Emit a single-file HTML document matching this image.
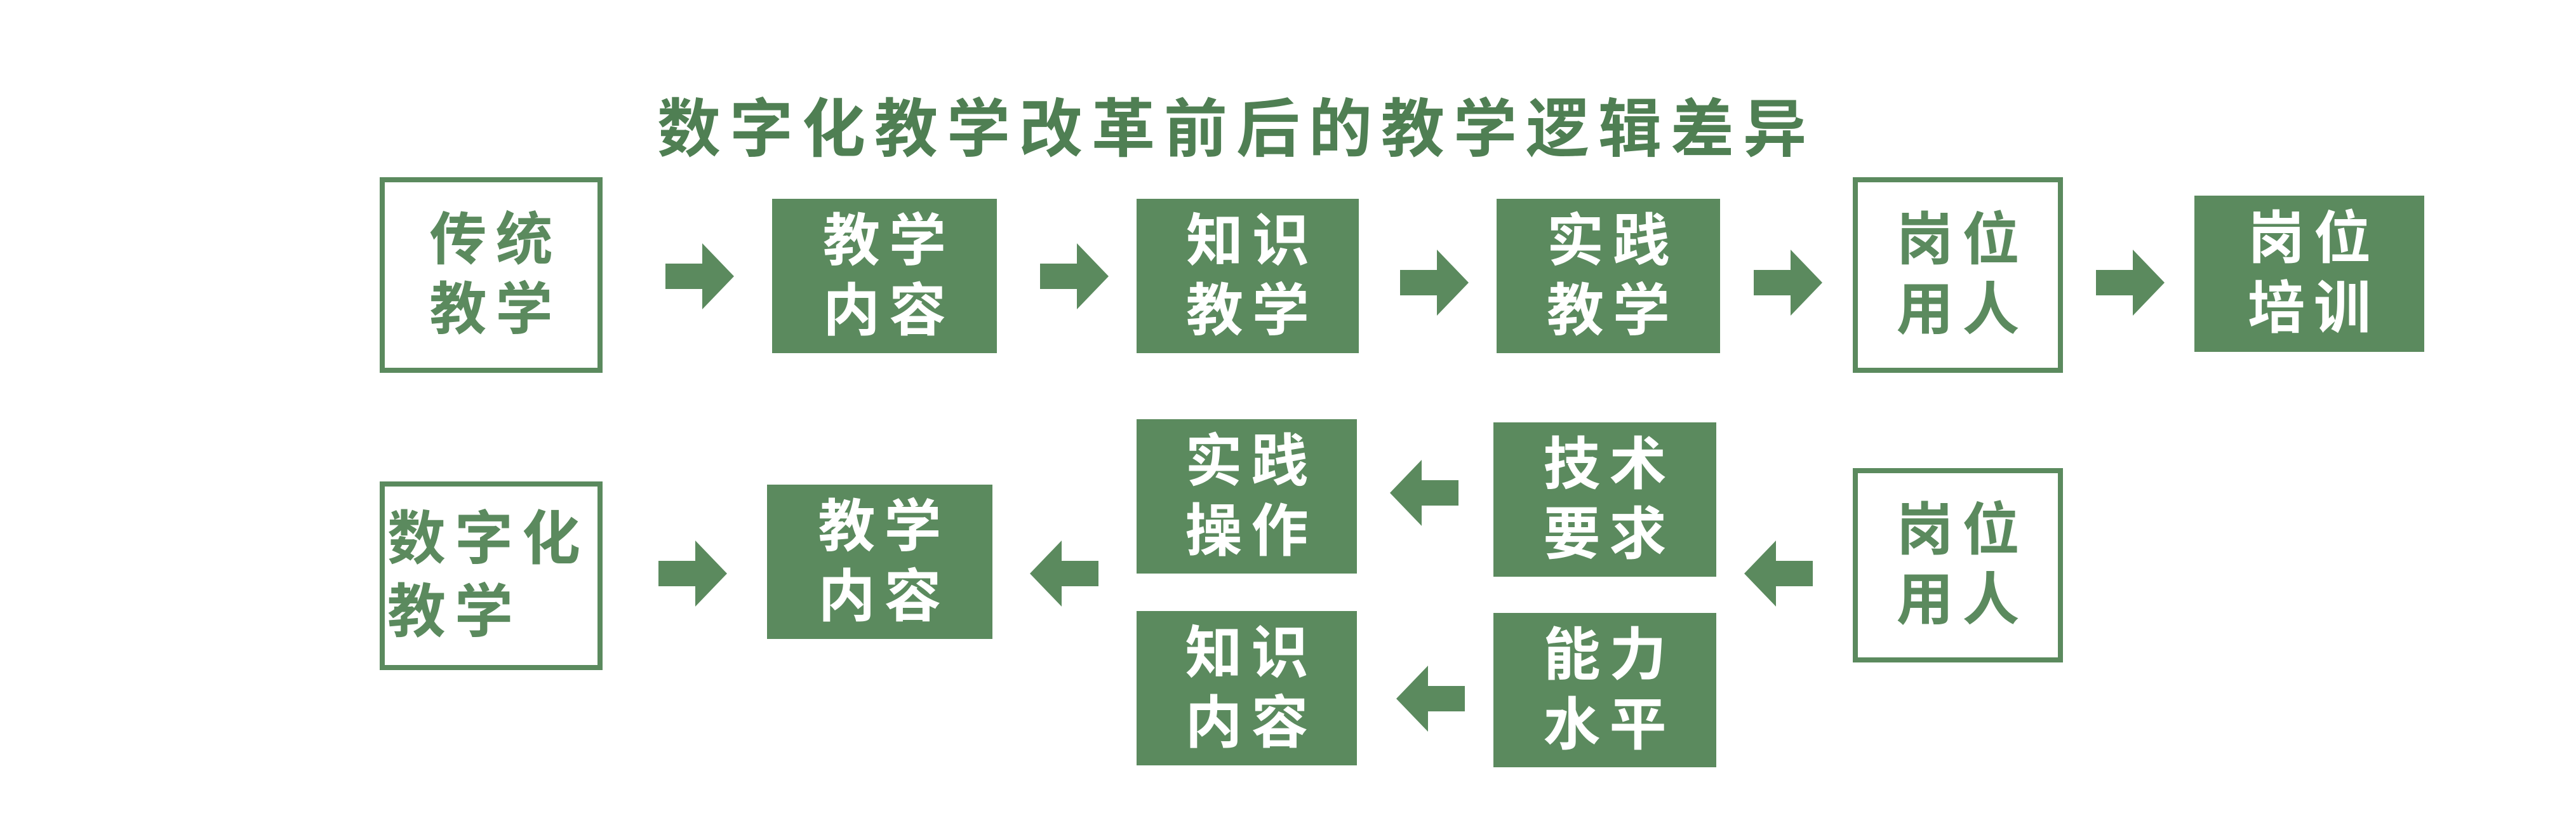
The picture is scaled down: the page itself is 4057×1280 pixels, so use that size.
<!DOCTYPE html>
<html><head><meta charset="utf-8"><style>
body{margin:0;width:4057px;height:1280px;background:#fff;position:relative;overflow:hidden;font-family:"Liberation Sans","Noto Sans CJK SC",sans-serif;}
.b{position:absolute;box-sizing:border-box;display:flex;align-items:center;justify-content:center;text-align:center;font-weight:bold;font-size:90px;line-height:110px;letter-spacing:14px;padding-left:14px;white-space:nowrap;}
.f{background:#5b8a5e;color:#fff;}
.o{border:8px solid #5b8a5e;color:#5b8a5e;background:#fff;}
.t{position:absolute;left:1035px;top:122px;font-size:100px;font-weight:bold;color:#4f7f53;letter-spacing:14px;white-space:nowrap;}
svg{position:absolute;left:0;top:0;}
</style></head><body>
<div class="t">数字化教学改革前后的教学逻辑差异</div>
<div class="b o" style="left:598px;top:279px;width:351px;height:308px;">传统<br>教学</div>
<div class="b f" style="left:1216px;top:313px;width:354px;height:243px;">教学<br>内容</div>
<div class="b f" style="left:1790px;top:313px;width:350px;height:243px;">知识<br>教学</div>
<div class="b f" style="left:2357px;top:313px;width:352px;height:243px;">实践<br>教学</div>
<div class="b o" style="left:2918px;top:279px;width:331px;height:308px;">岗位<br>用人</div>
<div class="b f" style="left:3456px;top:308px;width:362px;height:246px;">岗位<br>培训</div>

<div class="b o" style="left:598px;top:758px;width:351px;height:297px;justify-content:flex-start;text-align:left;padding-left:4px;font-size:92px;line-height:115px;letter-spacing:14px;overflow:visible;">数字化<br>教学</div>
<div class="b f" style="left:1208px;top:763px;width:355px;height:243px;">教学<br>内容</div>
<div class="b f" style="left:1790px;top:660px;width:347px;height:243px;">实践<br>操作</div>
<div class="b f" style="left:2352px;top:665px;width:351px;height:243px;">技术<br>要求</div>
<div class="b f" style="left:1790px;top:962px;width:347px;height:243px;">知识<br>内容</div>
<div class="b f" style="left:2352px;top:965px;width:351px;height:243px;">能力<br>水平</div>
<div class="b o" style="left:2918px;top:737px;width:331px;height:306px;">岗位<br>用人</div>

<svg width="4057" height="1280" fill="#5b8a5e">
<defs>
<polygon id="r" points="0,-20 58,-20 58,-52 108,0 58,52 58,20 0,20"/>
<polygon id="l" points="108,-20 50,-20 50,-52 0,0 50,52 50,20 108,20"/>
</defs>
<use href="#r" x="1048" y="435"/>
<use href="#r" x="1638" y="435"/>
<use href="#r" x="2205" y="445"/>
<use href="#r" x="2762" y="445"/>
<use href="#r" x="3301" y="445"/>
<use href="#r" x="1037" y="903"/>
<use href="#l" x="1622" y="903"/>
<use href="#l" x="2189" y="776"/>
<use href="#l" x="2199" y="1100"/>
<use href="#l" x="2747" y="903"/>
</svg>
</body></html>
